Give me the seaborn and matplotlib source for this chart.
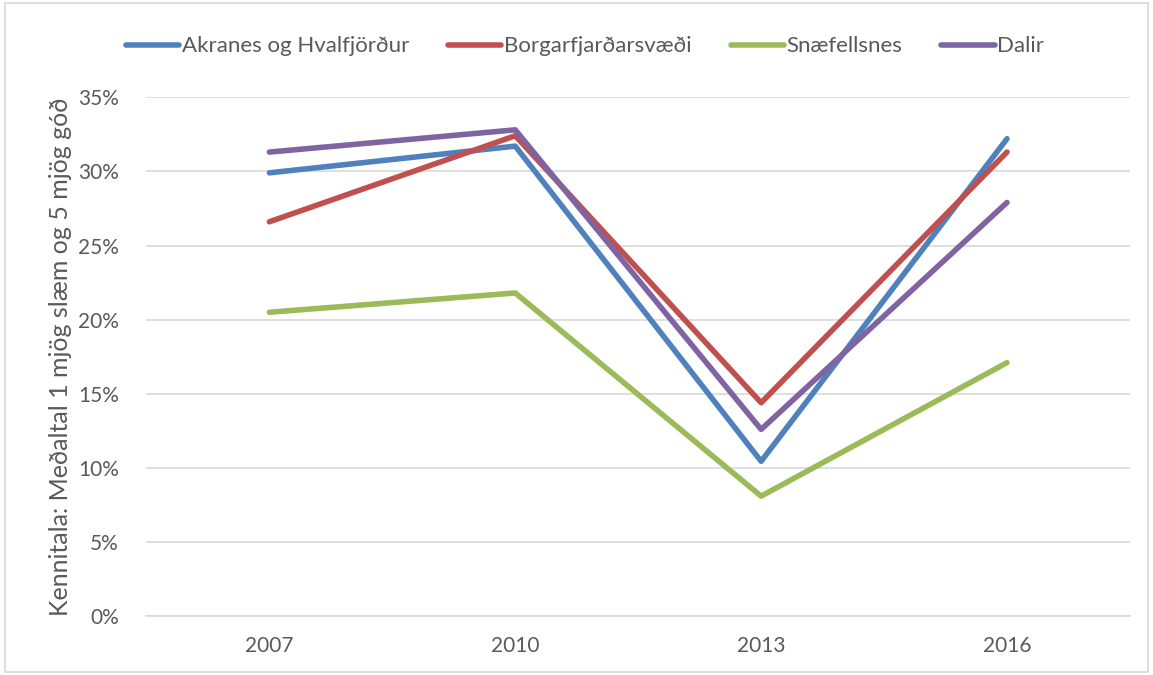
import pandas as pd
import matplotlib.pyplot as plt
import matplotlib.ticker as mtick
import seaborn as sns

sns.set_style('white')
plt.rcParams['font.family'] = ['Lato', 'DejaVu Sans']

# Gögn lesin af myndinni
ar = ['2007', '2010', '2013', '2016']
akranes = [29.9, 31.7, 10.45, 32.2]
borgarfjordur = [26.6, 32.4, 14.4, 31.3]
snaefellsnes = [20.5, 21.8, 8.1, 17.1]
dalir = [31.3, 32.8, 12.6, 27.9]

svaedi = ['Akranes og Hvalfjörður', 'Borgarfjarðarsvæði', 'Snæfellsnes', 'Dalir']
litir = ['#4F81BD', '#C0504D', '#9BBB59', '#8064A2']

df = pd.DataFrame({'Ár': ar, svaedi[0]: akranes, svaedi[1]: borgarfjordur,
                   svaedi[2]: snaefellsnes, svaedi[3]: dalir})
df_long = df.melt(id_vars='Ár', var_name='Svæði', value_name='Gildi')
df_long['x'] = df_long['Ár'].map({a: i for i, a in enumerate(ar)})

fig = plt.figure(figsize=(11.53, 6.75), dpi=100)
ax = fig.add_axes([0.127, 0.087, 0.853, 0.769])

sns.lineplot(data=df_long, x='x', y='Gildi', hue='Svæði', hue_order=svaedi,
             palette=litir, linewidth=4, ax=ax, solid_capstyle='round')

ax.set_xlim(-0.5, 3.5)
ax.set_ylim(0, 35)
ax.set_xticks(range(len(ar)))
ax.set_xticklabels(ar)
ax.set_yticks(range(0, 36, 5))
ax.yaxis.set_major_formatter(mtick.FuncFormatter(lambda v, p: f'{int(v)}%'))
ax.grid(axis='y', color='#D9D9D9', linewidth=1.2)
ax.set_axisbelow(True)
for s in ['top', 'right', 'left']:
    ax.spines[s].set_visible(False)
ax.spines['bottom'].set_color('#D9D9D9')
ax.spines['bottom'].set_linewidth(1.2)
ax.tick_params(axis='both', length=0, labelsize=15, colors='#595959', pad=14)
ax.tick_params(axis='y', pad=20)
ax.set_xlabel('')
ax.set_ylabel('Kennitala: Meðaltal 1 mjög slæm og 5 mjög góð', fontsize=18,
              color='#595959', labelpad=4)

ax.legend(loc='center', bbox_to_anchor=(0.446, 1.098), ncol=4, frameon=False,
          fontsize=16, handlelength=2.4, handletextpad=0.12, columnspacing=1.75,
          labelcolor='#595959')

# rammi um myndina
rammi = plt.Rectangle((0.004, 0.004), 0.992, 0.992, transform=fig.transFigure,
                      fill=False, edgecolor='#D9D9D9', linewidth=1.2)
fig.patches.append(rammi)

fig.savefig('out.png', dpi=100)
